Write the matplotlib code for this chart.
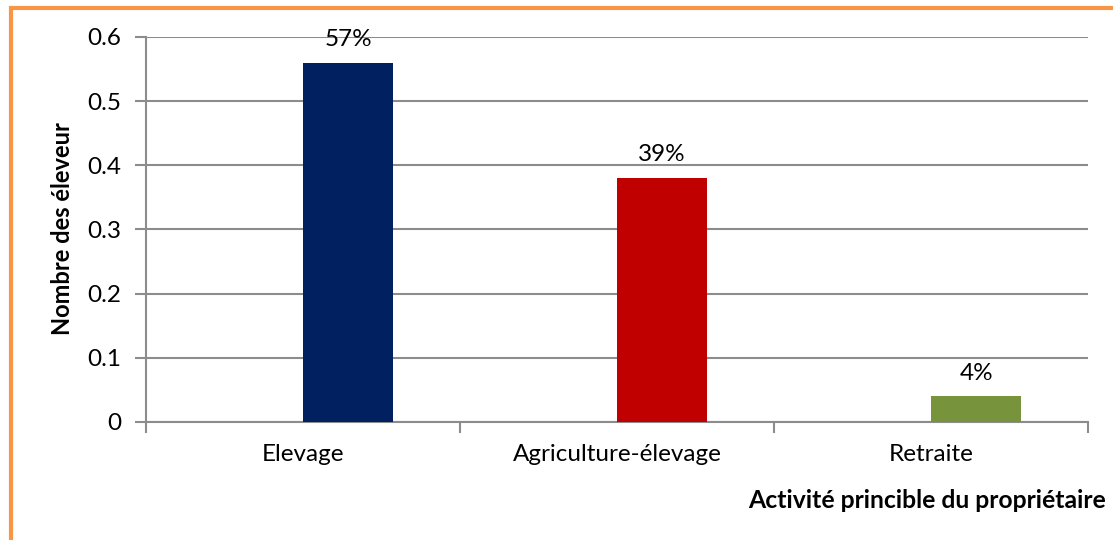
import matplotlib
matplotlib.use('Agg')
import matplotlib.pyplot as plt
from matplotlib.patches import Rectangle
import numpy as np

# Data
categories = ['Elevage', 'Agriculture-élevage', 'Retraite']
values = [0.56, 0.38, 0.04]
labels = ['57%', '39%', '4%']
colors = ['#002060', '#C00000', '#77933C']

plt.rcParams['font.family'] = ['Lato', 'DejaVu Sans']

fig = plt.figure(figsize=(11.13, 5.4), dpi=100)
ax = fig.add_axes([146 / 1113, 1 - 422 / 540, (1088 - 146) / 1113, (422 - 37) / 540])

x = np.arange(len(categories))
width = 0.287
bars = ax.bar(x, values, width=width, align='edge', color=colors, zorder=3)

for bar, lab in zip(bars, labels):
    ax.text(bar.get_x() + bar.get_width() / 2, bar.get_height() + 0.02, lab,
            ha='center', va='bottom', fontsize=17.5)

ax.set_xlim(-0.5, 2.5)
ax.set_ylim(0, 0.6)
ax.set_yticks([0, 0.1, 0.2, 0.3, 0.4, 0.5, 0.6])
ax.set_yticklabels(['0', '0.1', '0.2', '0.3', '0.4', '0.5', '0.6'], fontsize=17.5)
ax.set_xticks(x)
ax.set_xticklabels(categories, fontsize=17.5)
ax.tick_params(axis='x', length=0, pad=16)
ax.set_xticks([-0.5, 0.5, 1.5, 2.5], minor=True)
ax.tick_params(axis='x', which='minor', length=8, width=1.5, color='#8c8c8c', direction='out')
ax.tick_params(axis='y', length=8, width=1.5, color='#8c8c8c', pad=10)

ax.grid(axis='y', color='#8c8c8c', linewidth=1.5, zorder=0)
ax.set_axisbelow(True)
for s in ['top', 'right']:
    ax.spines[s].set_visible(False)
for s in ['left', 'bottom']:
    ax.spines[s].set_color('#8c8c8c')
    ax.spines[s].set_linewidth(1.5)

fig.text(62 / 1113, 1 - 229 / 540, 'Nombre des éleveur', rotation=90,
         ha='center', va='center', fontsize=17, fontweight='bold')
fig.text(1106 / 1113, 1 - 500 / 540, 'Activité princible du propriétaire',
         ha='right', va='center', fontsize=17.8, fontweight='bold')

# orange frame (left and top edges visible)
fig.patches.append(Rectangle((11 / 1113, -0.05), 1.2, 1 - 8 / 540 + 0.05,
                             transform=fig.transFigure, fill=False,
                             edgecolor='#F79646', linewidth=3))

fig.savefig('out.png', dpi=100)
